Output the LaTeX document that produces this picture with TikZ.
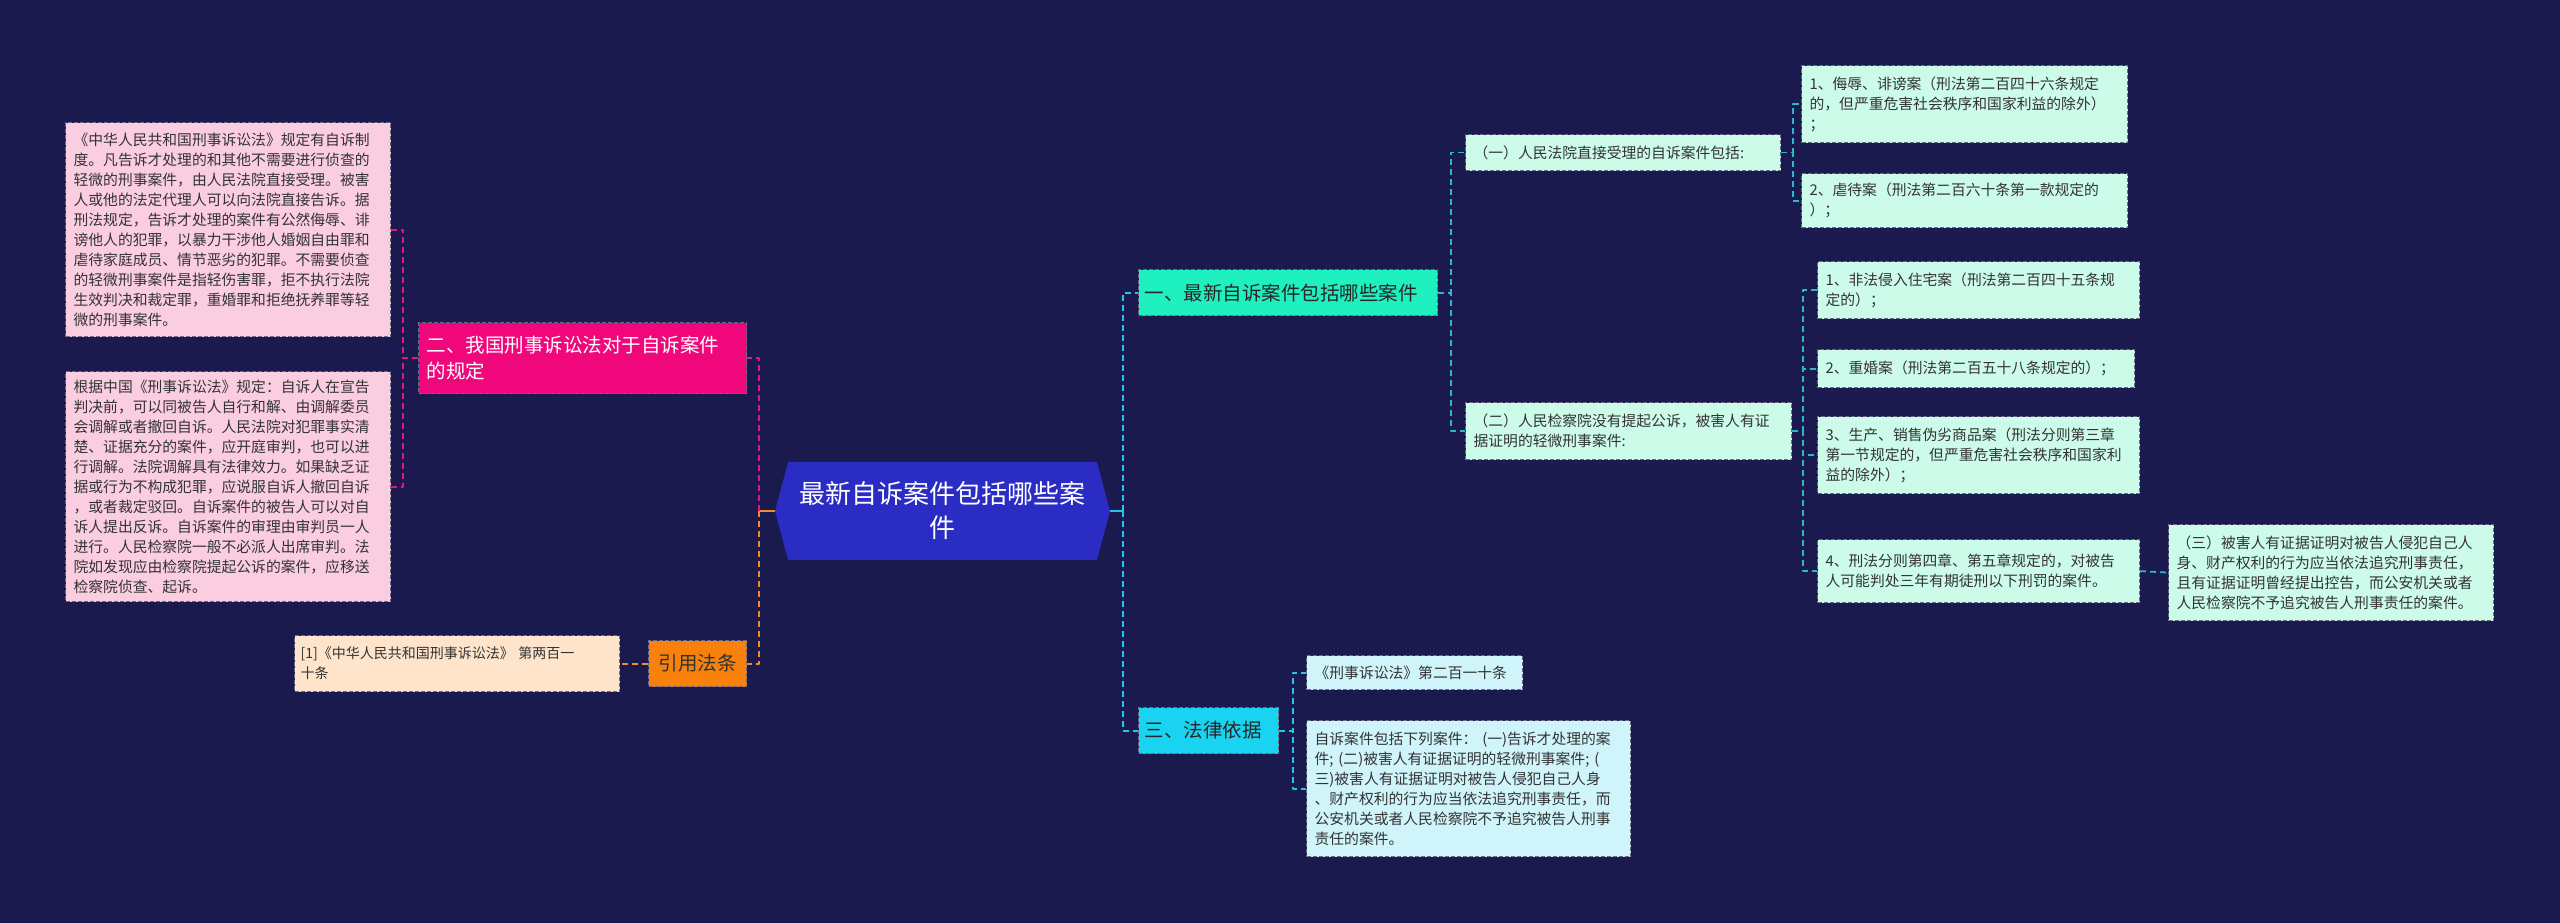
\documentclass[tikz,border=0pt]{standalone}
\usepackage{fontspec}
\setmainfont{Noto Sans CJK SC}
\usepackage{tikz}
\usetikzlibrary{shapes.symbols}
\definecolor{bg}{HTML}{1B1A4F}
\definecolor{rootc}{HTML}{2A2CC4}
\definecolor{mg}{HTML}{F0077B}
\definecolor{mgln}{HTML}{E6157C}
\definecolor{og}{HTML}{F8810C}
\definecolor{ogln}{HTML}{F28C28}
\definecolor{aq}{HTML}{1EF0C0}
\definecolor{cy}{HTML}{1AD3F0}
\definecolor{cyln}{HTML}{22C6E8}
\definecolor{tlln}{HTML}{2BB8CC}
\definecolor{pinkc}{HTML}{FACDE1}
\definecolor{peach}{HTML}{FDE4CA}
\definecolor{mint}{HTML}{CCFBEA}
\definecolor{ice}{HTML}{CFF4FA}
\definecolor{boxln}{HTML}{6C6A86}
\definecolor{txt}{HTML}{333333}
\tikzset{mm/.style={line join=round},
 box/.style={anchor=north west,align=left,inner xsep=8pt,inner ysep=4pt,draw=boxln,dash pattern=on 4pt off 2pt,line width=1.2pt,text=txt,font=\fontsize{14.8}{20}\selectfont},
 big/.style={box,font=\fontsize{19.5}{26}\selectfont},
 ln/.style={line width=1.8pt,dash pattern=on 6pt off 4pt}}

\begin{document}
\begin{tikzpicture}[x=1pt,y=-1pt,mm]
 \fill[bg](0,0)rectangle(2560,923);\useasboundingbox(0,0)rectangle(2560,923);
 \node[signal,signal to=east and west,signal pointer angle=150,fill=rootc,text=white,minimum width=335pt,minimum height=98pt,inner sep=0pt,align=center,font=\fontsize{26}{34}\selectfont](root)at(942.5,511){最新自诉案件包括哪些案\\件};
 % left side
 \node[big,fill=mg,text=white,text width=312pt,minimum height=71pt](b2)at(418,322){二、我国刑事诉讼法对于自诉案件\\的规定};
 \node[big,fill=og,text=txt,align=center,inner xsep=4pt,text width=90pt,minimum height=46pt](cite)at(648,640){引用法条};
 \node[box,fill=peach,inner xsep=6pt,text width=313pt,minimum height=56pt,font=\fontsize{14}{20}\selectfont](ref)at(294,635){[1]《中华人民共和国刑事诉讼法》 第两百一\\十条};
 \node[box,fill=pinkc,text width=309pt,minimum height=214pt](p1)at(65,122){《中华人民共和国刑事诉讼法》规定有自诉制\\度。凡告诉才处理的和其他不需要进行侦查的\\轻微的刑事案件，由人民法院直接受理。被害\\人或他的法定代理人可以向法院直接告诉。据\\刑法规定，告诉才处理的案件有公然侮辱、诽\\谤他人的犯罪，以暴力干涉他人婚姻自由罪和\\虐待家庭成员、情节恶劣的犯罪。不需要侦查\\的轻微刑事案件是指轻伤害罪，拒不执行法院\\生效判决和裁定罪，重婚罪和拒绝抚养罪等轻\\微的刑事案件。};
 \node[box,fill=pinkc,text width=309pt,minimum height=230pt](p2)at(65,371){根据中国《刑事诉讼法》规定：自诉人在宣告\\判决前，可以同被告人自行和解、由调解委员\\会调解或者撤回自诉。人民法院对犯罪事实清\\楚、证据充分的案件，应开庭审判，也可以进\\行调解。法院调解具有法律效力。如果缺乏证\\据或行为不构成犯罪，应说服自诉人撤回自诉\\，或者裁定驳回。自诉案件的被告人可以对自\\诉人提出反诉。自诉案件的审理由审判员一人\\进行。人民检察院一般不必派人出席审判。法\\院如发现应由检察院提起公诉的案件，应移送\\检察院侦查、起诉。};
 % right side
 \node[big,fill=aq,text=black!85,inner xsep=6pt,text width=287pt,minimum height=46pt](b1)at(1138,269){一、最新自诉案件包括哪些案件};
 \node[big,fill=cy,text=black!85,inner xsep=6pt,text width=128pt,minimum height=46pt](b3)at(1138,707){三、法律依据};
 \node[box,fill=mint,text width=299pt,minimum height=36pt](s1)at(1465,134){（一）人民法院直接受理的自诉案件包括:};
 \node[box,fill=mint,text width=310pt,minimum height=57pt](s2)at(1465,402){（二）人民检察院没有提起公诉，被害人有证\\据证明的轻微刑事案件:};
 \foreach \n/\x/\y/\w/\h/\t in {a1/1801/65/310/77/{1、侮辱、诽谤案（刑法第二百四十六条规定\\的，但严重危害社会秩序和国家利益的除外）\\；},
   a2/1801/173/310/54/{2、虐待案（刑法第二百六十条第一款规定的\\）；},
   c1/1817/261/306/57/{1、非法侵入住宅案（刑法第二百四十五条规\\定的）；},
   c2/1817/349/301/38/{2、重婚案（刑法第二百五十八条规定的）；},
   c3/1817/416/306/77/{3、生产、销售伪劣商品案（刑法分则第三章\\第一节规定的，但严重危害社会秩序和国家利\\益的除外）；},
   c4/1817/539/306/63/{4、刑法分则第四章、第五章规定的，对被告\\人可能判处三年有期徒刑以下刑罚的案件。},
   d3/2168/524/309/96/{（三）被害人有证据证明对被告人侵犯自己人\\身、财产权利的行为应当依法追究刑事责任，\\且有证据证明曾经提出控告，而公安机关或者\\人民检察院不予追究被告人刑事责任的案件。}}
  \node[box,fill=mint,text width=\w pt,minimum height=\h pt](\n)at(\x,\y){\t};
 \node[box,fill=ice,text width=200pt,minimum height=34pt](l1)at(1306,655){《刑事诉讼法》第二百一十条};
 \node[box,fill=ice,text width=308pt,minimum height=136pt](l2)at(1306,720){自诉案件包括下列案件： (一)告诉才处理的案\\件; (二)被害人有证据证明的轻微刑事案件; (\\三)被害人有证据证明对被告人侵犯自己人身\\、财产权利的行为应当依法追究刑事责任，而\\公安机关或者人民检察院不予追究被告人刑事\\责任的案件。};
 % junctions
 \coordinate(jl)at(759,0);\coordinate(jp)at(403,0);\coordinate(jr)at(1123,0);\coordinate(j1)at(1451,0);
 \coordinate(ja)at(1793,0);\coordinate(jc)at(1803,0);\coordinate(j3)at(1293,0);
 \draw[ogln,line width=1.8pt](root.west)--(root.west-|jl);\draw[cyln,line width=1.8pt](root.east)--(root.east-|jr);
 \draw[mgln,ln](root.west-|jl)|-(b2.east);\draw[ogln,ln](root.west-|jl)|-(cite.east);
 \foreach \c in {p1,p2}\draw[mgln,ln](b2.west)--(b2.west-|jp)|-(\c.east);
 \draw[ogln,ln](cite.west)--(ref.east);
 \foreach \c in {b1,b3}\draw[cyln,ln](root.east-|jr)|-(\c.west);
 \foreach \c in {s1,s2}\draw[tlln,ln](b1.east)--(b1.east-|j1)|-(\c.west);
 \foreach \c in {a1,a2}\draw[tlln,ln](s1.east)--(s1.east-|ja)|-(\c.west);
 \foreach \c in {c1,c2,c3,c4}\draw[tlln,ln](s2.east)--(s2.east-|jc)|-(\c.west);
 \draw[tlln,ln](c4.east)--(d3.west);
 \foreach \c in {l1,l2}\draw[cyln,ln](b3.east)--(b3.east-|j3)|-(\c.west);
\end{tikzpicture}
\end{document}
